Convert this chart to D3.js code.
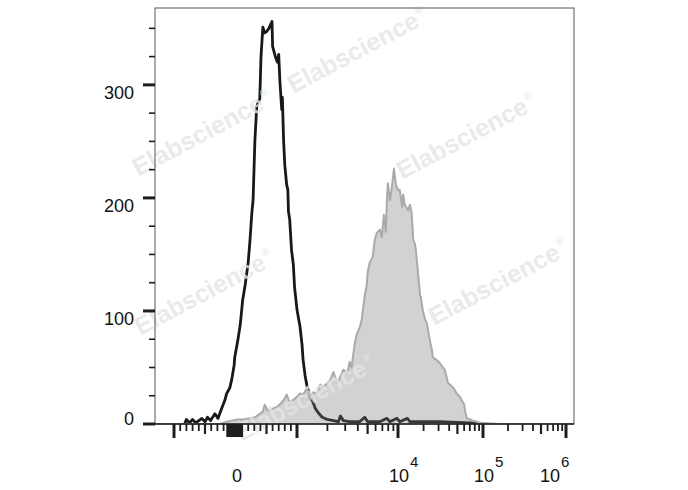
<!DOCTYPE html>
<html>
<head>
<meta charset="utf-8">
<script src="https://cdn.jsdelivr.net/npm/d3@7/dist/d3.min.js"></script>
<style>
  html, body { margin: 0; padding: 0; background: #fff; }
  svg { display: block; }
  text { font-family: "Liberation Sans", Arial, Helvetica, sans-serif; }
</style>
</head>
<body>
<svg id="chart" width="688" height="490"></svg>
<script>
// ---------------- DATA ----------------
// x positions are in display units of the biexponential axis
// (-1..1 linear for -1000..1000, then one unit per decade)
const blackPos = [-0.83,-0.80,-0.75,-0.70,-0.65,-0.60,-0.55,-0.50,-0.46,-0.41,-0.34,-0.29,-0.23,-0.18,-0.15,-0.10,-0.07,-0.03,-0.02,
  0.03,0.07,0.11,0.15,0.18,0.20,0.23,0.26,0.28,0.31,0.34,0.39,0.41,0.44,0.47,0.50,0.54,0.59,0.60,0.65,0.68,0.70,0.72,0.75,0.76,
  0.78,0.80,0.83,0.85,0.86,0.88,0.91,0.94,0.96,1.00,1.03,1.05,1.06,1.08,1.10,1.13,1.16,1.18,1.21,1.25,1.30,1.36,1.41,1.43,1.46,
  1.52,1.62,1.67,1.70,1.82,1.89,1.92,1.99,2.02,2.11,2.14,2.49,2.85,2.94];
const blackCount = [0,4,1,4,1,3,5,2,6,3,9,5,14,21,27,32,39,52,59,
  74,88,110,123,135,143,163,187,198,251,281,288,325,351,346,347,350,356,334,324,320,327,303,278,289,
  251,229,212,207,188,181,154,141,121,101,86,70,57,43,33,25,19,14,10,6,4,3,2,7,3,
  2,2,6,2,2,5,2,5,2,5,2,2,1,0];

const grayPos = [-1.32,-0.59,-0.26,-0.15,-0.07,0.02,0.11,0.23,0.31,0.39,0.44,0.47,0.52,0.55,0.62,0.67,0.73,0.78,0.83,0.88,0.93,
  1.00,1.03,1.06,1.10,1.13,1.16,1.20,1.23,1.26,1.30,1.33,1.36,1.40,1.43,1.46,1.50,1.52,1.54,1.57,1.59,1.62,1.64,1.67,1.69,1.70,
  1.72,1.75,1.77,1.79,1.82,1.84,1.86,1.88,1.89,1.90,1.92,1.93,1.95,1.96,1.98,2.00,2.02,2.05,2.06,2.08,2.12,2.14,2.16,2.18,2.20,
  2.21,2.24,2.26,2.27,2.29,2.32,2.34,2.38,2.40,2.41,2.45,2.49,2.53,2.55,2.59,2.61,2.65,2.67,2.69,2.73,2.75,2.78,2.79,2.81,2.85,
  2.88,2.93,2.96,3.20,4.10];
const grayCount = [0,0,0,2,3,4,4,5,6,9,11,17,12,12,14,15,18,21,26,19,21,
  24,27,26,32,21,28,27,35,33,36,39,46,36,42,48,45,55,50,70,79,85,92,113,123,134,
  143,148,163,169,172,165,185,170,198,213,198,203,218,226,211,207,207,192,203,194,189,194,187,163,159,
  154,130,114,112,101,92,89,72,65,59,57,54,50,48,36,35,32,30,27,24,21,17,11,5,4,
  3,2,1,0,0];

const yMajorTicks = [0, 100, 200, 300];
const yMinorTicks = [25, 50, 75, 125, 150, 175, 225, 250, 275, 325, 350];
const xMajorTicks = [-1000, 1000, 1e4, 1e5, 1e6];
const xMediumTicks = [-500, 500, 5e3, 5e4, 5e5];
const xMinorTicks = [-900,-800,-700,-600,-400,-300,-200,200,300,400,600,700,800,900,
  2e3,3e3,4e3,6e3,7e3,8e3,9e3, 2e4,3e4,4e4,6e4,7e4,8e4,9e4, 2e5,3e5,4e5,6e5,7e5,8e5,9e5];
const xZeroTicks = [-140,-120,-100,-80,-60,-40,-20,0,20,40,60,80,100];
const xLabelValues = [0, 1e4, 1e5, 1e6];
const xLabelBase = ["0", "10", "10", "10"];
const xLabelExp = ["", "4", "5", "6"];
const watermarkText = "Elabscience";

// ---------------- LAYOUT ----------------
const svg = d3.select("#chart");
const plot = { left: 155, right: 574, top: 8, bottom: 424 };

// biexponential display transform
const T = v => Math.abs(v) <= 1000 ? v / 1000 : Math.sign(v) * (1 + Math.log10(Math.abs(v) / 1000));
const xs = d3.scaleLinear().domain([-1, 0, 1, 2, 3, 4]).range([174, 236, 297, 398, 483, 566]);
const xv = v => xs(T(v));
const y = d3.scaleLinear().domain([0, 368]).range([plot.bottom, plot.top]);

svg.append("defs").append("clipPath").attr("id", "clip")
  .append("rect").attr("x", plot.left).attr("y", plot.top - 2)
  .attr("width", plot.right - plot.left).attr("height", plot.bottom - plot.top + 2);

const g = svg.append("g").attr("clip-path", "url(#clip)");

const blackData = blackPos.map((p, i) => [p, blackCount[i]]);
const grayData = grayPos.map((p, i) => [p, grayCount[i]]);

const line = d3.line().x(d => xs(d[0])).y(d => y(d[1]));
const area = d3.area().x(d => xs(d[0])).y0(y(0)).y1(d => y(d[1]));

// black (control) histogram line
g.append("path").datum(blackData).attr("d", line)
  .attr("fill", "none").attr("stroke", "#181818").attr("stroke-width", 2.8)
  .attr("stroke-linejoin", "round");

// gray filled histogram
g.append("path").datum(grayData).attr("d", area)
  .attr("fill", "rgb(118,118,118)").attr("fill-opacity", 0.33);
g.append("path").datum(grayData).attr("d", line)
  .attr("fill", "none").attr("stroke", "#aaaaaa").attr("stroke-width", 2)
  .attr("stroke-linejoin", "round");

// watermarks
const wm = [[357, 50], [202, 133], [466, 136], [204, 292], [498, 282], [305, 398]];
wm.forEach(([cx, cy]) => {
  const t = svg.append("text")
    .attr("transform", `translate(${cx},${cy}) rotate(-28)`)
    .attr("text-anchor", "middle").attr("dy", "0.35em")
    .attr("font-size", 25).attr("font-weight", "bold")
    .attr("fill", "#e5e5e5").attr("fill-opacity", 0.8);
  t.append("tspan").text(watermarkText);
  t.append("tspan").text("®").attr("font-size", 10).attr("dy", -12).attr("dx", 2);
});

// frame
svg.append("rect").attr("x", plot.left).attr("y", plot.top)
  .attr("width", plot.right - plot.left).attr("height", plot.bottom - plot.top)
  .attr("fill", "none").attr("stroke", "#555").attr("stroke-width", 1);
svg.append("line").attr("x1", plot.left).attr("x2", plot.right)
  .attr("y1", plot.bottom).attr("y2", plot.bottom)
  .attr("stroke", "#222").attr("stroke-width", 1.6);

// y ticks
const tickColor = "#1e1e1e";
svg.append("g").selectAll("line").data(yMajorTicks).join("line")
  .attr("x1", plot.left - 12).attr("x2", plot.left)
  .attr("y1", d => y(d)).attr("y2", d => y(d))
  .attr("stroke", tickColor).attr("stroke-width", 3);
svg.append("g").selectAll("line").data(yMinorTicks).join("line")
  .attr("x1", plot.left - 6).attr("x2", plot.left)
  .attr("y1", d => y(d)).attr("y2", d => y(d))
  .attr("stroke", tickColor).attr("stroke-width", 1.6);
svg.append("g").selectAll("text").data(yMajorTicks).join("text")
  .attr("x", plot.left - 21)
  .attr("y", d => Math.min(y(d) + 14, plot.bottom + 1))
  .attr("text-anchor", "end").attr("font-size", 18).attr("fill", "#111")
  .text(d => d);

// x ticks
const xt = svg.append("g");
const addTicks = (vals, len, w) => xt.append("g").selectAll("line").data(vals).join("line")
  .attr("x1", d => xv(d)).attr("x2", d => xv(d))
  .attr("y1", plot.bottom).attr("y2", plot.bottom + len)
  .attr("stroke", tickColor).attr("stroke-width", w);
addTicks(xMinorTicks, 7, 1.8);
addTicks(xMediumTicks, 10, 2.2);
addTicks(xMajorTicks, 14, 3);
addTicks(xZeroTicks, 13, 2);

// x labels
xLabelValues.forEach((v, i) => {
  const px = xv(v);
  const t = svg.append("text").attr("y", 482).attr("font-size", 18).attr("fill", "#111");
  if (xLabelExp[i] === "") {
    t.attr("x", px + 1).attr("text-anchor", "middle").text(xLabelBase[i]);
  } else {
    const start = Math.min(px - 9, plot.right - 34);
    t.attr("x", start);
    t.append("tspan").text(xLabelBase[i]);
    t.append("tspan").text(xLabelExp[i]).attr("font-size", 15).attr("dy", -15).attr("dx", 1);
  }
});
</script>
</body>
</html>
